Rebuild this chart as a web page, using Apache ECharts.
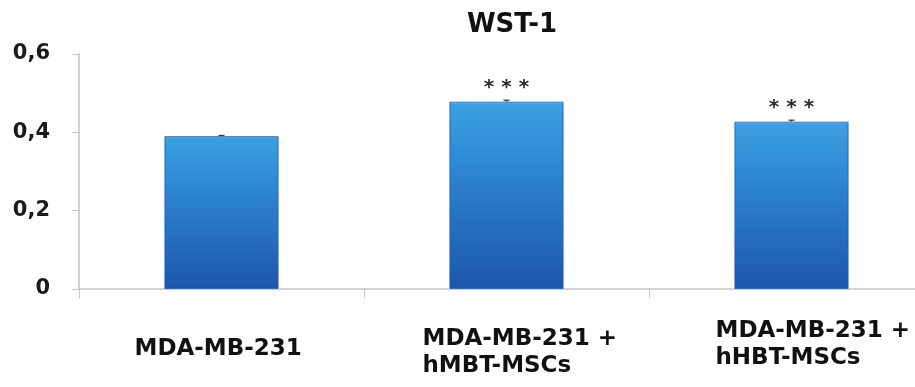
<!DOCTYPE html>
<html>
<head>
<meta charset="utf-8">
<script src="https://cdn.jsdelivr.net/npm/echarts@6/dist/echarts.min.js"></script>
<style>
  html, body { margin: 0; padding: 0; background: #fff; }
  #chart { width: 915px; height: 387px; }
</style>
</head>
<body>
<div id="chart"></div>
<script>
// WST-1 assay: absorbance per culture condition
const categories = ['MDA-MB-231', 'MDA-MB-231 +\nhMBT-MSCs', 'MDA-MB-231 +\nhHBT-MSCs'];
const values = [0.39, 0.478, 0.427];
const errors = [0.002, 0.004, 0.004];
const significance = ['', '***', '***'];
const yTickLabels = ['0', '0,2', '0,4', '0,6'];

const FONT = '"DejaVu Sans", sans-serif';

// per-label block widths / vertical offsets so wrapped lines share a left edge
const labelBlockWidth = [174, 168, 152];
const labelPadTop = [18, 8, 0];

const labelRich = {};
labelBlockWidth.forEach(function (w, i) {
  labelRich['c' + i] = {
    width: w, align: 'left', fontFamily: FONT, fontWeight: 'bold',
    fontSize: 23, lineHeight: 27, color: '#111'
  };
});

const chart = echarts.init(document.getElementById('chart'), null, { renderer: 'canvas' });

const barGradient = new echarts.graphic.LinearGradient(0, 0, 0, 1, [
  { offset: 0, color: '#86c8f2' },
  { offset: 0.012, color: '#3c9fe0' },
  { offset: 0.3, color: '#2f8ad6' },
  { offset: 1, color: '#1c56ad' }
]);

chart.setOption({
  backgroundColor: '#ffffff',
  animation: false,
  title: {
    text: 'WST-1',
    left: 507, top: 7, textAlign: 'center',
    textStyle: { fontFamily: FONT, fontWeight: 'bold', fontSize: 26, color: '#111' }
  },
  grid: { left: 79, width: 855, top: 54, bottom: 98, outerBoundsMode: 'none' },
  xAxis: {
    type: 'category',
    data: categories.map(function (c, i) {
      return { value: c, textStyle: { padding: [labelPadTop[i], 0, 0, 0] } };
    }),
    axisLine: { lineStyle: { color: '#c6c6c6', width: 1.5 } },
    axisTick: { show: true, length: 9, lineStyle: { color: '#c6c6c6' } },
    axisLabel: {
      margin: 29,
      interval: 0,
      formatter: function (value, index) {
        return value.split('\n').map(function (line) {
          return '{c' + index + '|' + line + '}';
        }).join('\n');
      },
      rich: labelRich
    }
  },
  yAxis: {
    type: 'value',
    min: 0, max: 0.6, interval: 0.2,
    splitLine: { show: false },
    axisLine: { show: true, lineStyle: { color: '#c6c6c6', width: 1.5 } },
    axisTick: { show: true, length: 7, lineStyle: { color: '#c6c6c6' } },
    axisLabel: {
      margin: 29,
      fontFamily: FONT, fontWeight: 'bold', fontSize: 21, color: '#1a1a1a',
      formatter: function (v) { return yTickLabels[Math.round(v / 0.2)]; }
    }
  },
  series: [
    {
      type: 'bar',
      data: values,
      barWidth: '40%',
      itemStyle: { color: barGradient, borderColor: '#1b5cab', borderWidth: 0.8 },
      label: {
        show: true, position: 'top', distance: 4,
        fontFamily: FONT, fontWeight: 'bold', fontSize: 20, color: '#2a2a2a',
        formatter: function (p) { return significance[p.dataIndex].split('').join(' '); }
      },
      z: 2
    },
    {
      // standard-error whiskers
      type: 'custom',
      data: values.map(function (v, i) { return [i, v, errors[i]]; }),
      renderItem: function (params, api) {
        const x = api.coord([api.value(0), api.value(1)])[0];
        const yBase = api.coord([api.value(0), api.value(1)])[1];
        const yTop = api.coord([api.value(0), api.value(1) + api.value(2)])[1];
        const style = { stroke: '#333', lineWidth: 1.2 };
        return {
          type: 'group',
          children: [
            { type: 'line', shape: { x1: x, y1: yBase, x2: x, y2: yTop }, style: style },
            { type: 'line', shape: { x1: x - 3, y1: yTop, x2: x + 3, y2: yTop }, style: style }
          ]
        };
      },
      z: 3
    }
  ]
});
</script>
</body>
</html>
